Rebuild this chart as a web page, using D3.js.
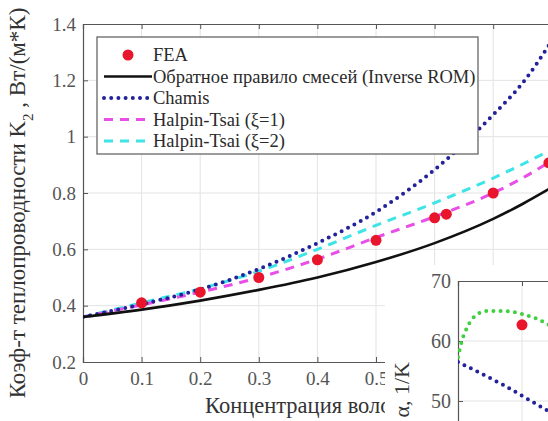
<!DOCTYPE html>
<html lang="ru">

<head>
    <meta charset="UTF-8">
    <script src="https://d3js.org/d3.v7.min.js"></script>
    <title>K2 vs fibre fraction</title>
    <style>
        body { margin: 0; background: #fff; }
        svg { display: block; }
    </style>
</head>

<body>
    <svg class="chart"></svg>
    <script>
        // main chart: fibre volume fraction vs K2
        var vf = [0, 0.1, 0.2, 0.3, 0.4, 0.5, 0.6, 0.7, 0.75, 0.8];
        var inverseROM = [0.36, 0.386, 0.418, 0.456, 0.5, 0.555, 0.622, 0.708, 0.761, 0.82];
        var chamis = [0.36, 0.405, 0.458, 0.53, 0.622, 0.733, 0.883, 1.078, 1.19, 1.34];
        var halpin1 = [0.36, 0.403, 0.448, 0.5, 0.565, 0.642, 0.716, 0.8, 0.853, 0.915];
        var halpin2 = [0.36, 0.41, 0.46, 0.522, 0.6, 0.685, 0.765, 0.853, 0.902, 0.955];
        var feaVf = [0.1, 0.2, 0.3, 0.4, 0.5, 0.6, 0.62, 0.7, 0.795];
        var feaK = [0.41, 0.448, 0.5, 0.563, 0.632, 0.712, 0.725, 0.8, 0.907];
        var xTicks = [0, 0.1, 0.2, 0.3, 0.4, 0.5, 0.6, 0.7, 0.8, 0.9];
        var xTickLabels = [0, 0.1, 0.2, 0.3, 0.4, 0.5];
        var yTicks = [0.2, 0.4, 0.6, 0.8, 1, 1.2, 1.4];
        var legendNames = ["FEA", "Обратное правило смесей (Inverse ROM)", "Chamis", "Halpin-Tsai (\u03be=1)", "Halpin-Tsai (\u03be=2)"];

        // inset (partly visible)
        var inX = [0, 0.006, 0.014, 0.027, 0.045, 0.07, 0.1, 0.123, 0.14, 0.16];
        var inGreen = [57.3, 60, 62.2, 64.2, 65, 65, 64.5, 63.7, 62.8, 61.5];
        var inBlueX = [0, 0.07, 0.14, 0.16];
        var inBlue = [56.5, 52.7, 48.4, 47.2];
        var inFeaX = [0.1];
        var inFea = [62.7];
        var inYTicks = [50, 60, 70];
        var inXTicks = [0.1];

        var FONT = "'Liberation Serif', 'Times New Roman', 'DejaVu Serif', serif";
        var W = 548, H = 421;
        var svg = d3.select(".chart")
            .attr("width", W)
            .attr("height", H)
            .attr("font-family", FONT);

        var x = d3.scaleLinear().domain([0, 1]).range([83, 669]);
        var y = d3.scaleLinear().domain([0.2, 1.4]).range([362, 24]);

        svg.append("clipPath").attr("id", "plotClip")
            .append("rect")
            .attr("x", x(0)).attr("y", y(1.4))
            .attr("width", x(1) - x(0)).attr("height", y(0.2) - y(1.4));

        // grid
        var grid = svg.append("g").attr("stroke", "#e3e3e3").attr("stroke-width", 1);
        xTicks.slice(1).forEach(function(t) {
            grid.append("line")
                .attr("x1", x(t)).attr("x2", x(t))
                .attr("y1", y(0.2)).attr("y2", y(1.4));
        });
        yTicks.slice(1, -1).forEach(function(t) {
            grid.append("line")
                .attr("x1", x(0)).attr("x2", x(1))
                .attr("y1", y(t)).attr("y2", y(t));
        });

        // axes
        var axisColor = "#555";
        var gx = svg.append("g")
            .attr("transform", "translate(0," + y(0.2) + ")")
            .call(d3.axisBottom(x).tickValues(xTicks).tickFormat("").tickSize(-5));
        var gxLab = svg.append("g")
            .attr("transform", "translate(0," + y(0.2) + ")")
            .call(d3.axisBottom(x).tickValues(xTickLabels).tickFormat(d3.format("")).tickSize(0).tickPadding(10));
        gxLab.select(".domain").remove();
        var gxTop = svg.append("g")
            .attr("transform", "translate(0," + y(1.4) + ")")
            .call(d3.axisTop(x).tickValues(xTicks).tickFormat("").tickSize(-5));
        var gy = svg.append("g")
            .attr("transform", "translate(" + x(0) + ",0)")
            .call(d3.axisLeft(y).tickValues(yTicks).tickFormat(d3.format("")).tickSize(-5).tickPadding(7));
        [gx, gxLab, gxTop, gy].forEach(function(g) {
            g.attr("font-family", FONT).attr("font-size", 19);
            g.select(".domain").attr("stroke", axisColor).attr("stroke-width", 1.2);
            g.selectAll(".tick line").attr("stroke", axisColor);
            g.selectAll(".tick text").attr("fill", "#555");
        });

        // curves
        var line = d3.line()
            .x(function(d) { return x(d[0]); })
            .y(function(d) { return y(d[1]); })
            .curve(d3.curveMonotoneX);
        var plot = svg.append("g").attr("clip-path", "url(#plotClip)");

        function pairs(xs, ys) {
            return xs.map(function(v, i) { return [v, ys[i]]; });
        }

        var styles = [
            { data: inverseROM, color: "#111", width: 2.6, dash: null, cap: "butt" },
            { data: chamis, color: "#22229a", width: 4, dash: "0 7.2", cap: "round" },
            { data: halpin1, color: "#e84fe6", width: 3, dash: "9 7", cap: "butt" },
            { data: halpin2, color: "#3fe4e6", width: 3, dash: "9 7", cap: "butt" }
        ];

        // draw order: cyan, magenta, chamis, black
        [3, 2, 1, 0].forEach(function(i) {
            var s = styles[i];
            plot.append("path")
                .attr("d", line(pairs(vf, s.data)))
                .attr("fill", "none")
                .attr("stroke", s.color)
                .attr("stroke-width", s.width)
                .attr("stroke-dasharray", s.dash)
                .attr("stroke-linecap", s.cap);
        });

        for (var i = 0; i < feaVf.length; i++) {
            plot.append("circle")
                .attr("cx", x(feaVf[i]))
                .attr("cy", y(feaK[i]))
                .attr("r", 5.5)
                .attr("fill", "#e8152d");
        }

        // legend
        var lg = svg.append("g");
        lg.append("rect")
            .attr("x", 97).attr("y", 37)
            .attr("width", 381).attr("height", 117)
            .attr("fill", "#fff")
            .attr("stroke", "#666")
            .attr("stroke-width", 1.3);
        for (var k = 0; k < legendNames.length; k++) {
            var ly = 55 + 21.5 * k;
            if (k == 0) {
                lg.append("circle")
                    .attr("cx", 128).attr("cy", ly).attr("r", 5.5)
                    .attr("fill", "#e8152d");
            } else {
                var s = styles[k - 1];
                lg.append("line")
                    .attr("x1", 104).attr("x2", 152)
                    .attr("y1", ly).attr("y2", ly)
                    .attr("stroke", s.color)
                    .attr("stroke-width", s.width)
                    .attr("stroke-dasharray", s.dash)
                    .attr("stroke-linecap", s.cap);
            }
            lg.append("text")
                .attr("x", 153)
                .attr("y", ly + 6)
                .attr("fill", "#2a2a2a")
                .attr("font-size", 18.5)
                .text(legendNames[k]);
        }

        // axis titles
        var yTitle = svg.append("text")
            .attr("transform", "translate(25,203) rotate(-90)")
            .attr("text-anchor", "middle")
            .attr("fill", "#333")
            .attr("font-size", 23);
        yTitle.append("tspan").text("Коэф-т теплопроводности K");
        yTitle.append("tspan").attr("baseline-shift", "sub").attr("font-size", 15).text("2");
        yTitle.append("tspan").text(" , Вт/(м*К)");

        svg.append("text")
            .attr("x", 205)
            .attr("y", 413)
            .attr("fill", "#333")
            .attr("font-size", 22.5)
            .text("Концентрация волокна");

        // inset figure on top
        var ix = d3.scaleLinear().domain([0, 0.2]).range([458, 586]);
        var iy = d3.scaleLinear().domain([40, 70]).range([461, 281]);
        var inset = svg.append("g");
        inset.append("rect")
            .attr("x", 385).attr("y", 265)
            .attr("width", W - 385).attr("height", H - 265)
            .attr("fill", "#fff");

        svg.append("clipPath").attr("id", "insetClip")
            .append("rect")
            .attr("x", ix(0)).attr("y", iy(70))
            .attr("width", ix(0.2) - ix(0)).attr("height", iy(40) - iy(70));

        inYTicks.slice(0, -1).forEach(function(t) {
            inset.append("line")
                .attr("x1", ix(0)).attr("x2", W)
                .attr("y1", iy(t)).attr("y2", iy(t))
                .attr("stroke", "#e3e3e3");
        });
        inXTicks.forEach(function(t) {
            inset.append("line")
                .attr("x1", ix(t)).attr("x2", ix(t))
                .attr("y1", iy(70)).attr("y2", H)
                .attr("stroke", "#e3e3e3");
        });

        var giy = inset.append("g")
            .attr("transform", "translate(" + ix(0) + ",0)")
            .call(d3.axisLeft(iy).tickValues(inYTicks).tickSize(-5).tickPadding(7));
        var gix = inset.append("g")
            .attr("transform", "translate(0," + iy(70) + ")")
            .call(d3.axisTop(ix).tickValues(inXTicks).tickFormat("").tickSize(-5));
        [giy, gix].forEach(function(g) {
            g.attr("font-family", FONT).attr("font-size", 20);
            g.select(".domain").attr("stroke", axisColor).attr("stroke-width", 1.2);
            g.selectAll(".tick line").attr("stroke", axisColor);
            g.selectAll(".tick text").attr("fill", "#555");
        });

        var iline = d3.line()
            .x(function(d) { return ix(d[0]); })
            .y(function(d) { return iy(d[1]); })
            .curve(d3.curveMonotoneX);
        var iplot = inset.append("g").attr("clip-path", "url(#insetClip)");
        iplot.append("path")
            .attr("d", iline(pairs(inX, inGreen)))
            .attr("fill", "none")
            .attr("stroke", "#3fcf3f")
            .attr("stroke-width", 4)
            .attr("stroke-dasharray", "0 7.2")
            .attr("stroke-linecap", "round");
        iplot.append("path")
            .attr("d", iline(pairs(inBlueX, inBlue)))
            .attr("fill", "none")
            .attr("stroke", "#22229a")
            .attr("stroke-width", 4)
            .attr("stroke-dasharray", "0 7.2")
            .attr("stroke-linecap", "round");
        iplot.append("circle")
            .attr("cx", ix(inFeaX[0]))
            .attr("cy", iy(inFea[0]))
            .attr("r", 5.5)
            .attr("fill", "#e8152d");

        inset.append("text")
            .attr("transform", "translate(409,362) rotate(-90)")
            .attr("text-anchor", "end")
            .attr("fill", "#333")
            .attr("font-size", 22)
            .text("\u03b1, 1/K");
    </script>
</body>

</html>
